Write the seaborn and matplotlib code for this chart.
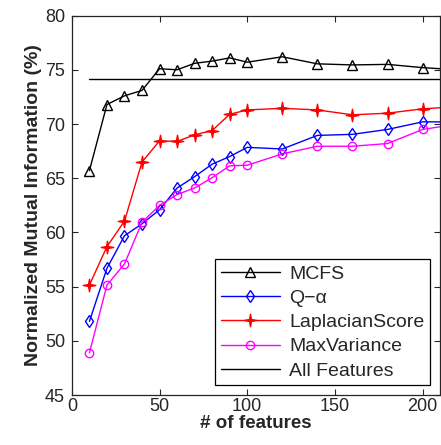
import numpy as np
import pandas as pd
import matplotlib
matplotlib.use("Agg")
import matplotlib.pyplot as plt
from matplotlib.path import Path
import seaborn as sns

# number of selected features (last point lies past the visible x range)
n_features = [10, 20, 30, 40, 50, 60, 70, 80, 90, 100, 120, 140, 160, 180, 200, 220]

mcfs = [65.7, 71.8, 72.6, 73.1, 75.1, 75.0, 75.6, 75.8, 76.1, 75.7, 76.2, 75.55, 75.45, 75.5, 75.2, 75.0]
q_alpha = [51.8, 56.7, 59.7, 60.8, 62.1, 64.1, 65.15, 66.3, 67.0, 67.85, 67.7, 68.95, 69.05, 69.5, 70.2, 70.2]
laplacian = [55.15, 58.7, 61.05, 66.5, 68.45, 68.4, 69.0, 69.4, 70.9, 71.3, 71.45, 71.3, 70.85, 71.0, 71.4, 71.6]
max_variance = [48.9, 55.15, 57.1, 60.95, 62.5, 63.5, 64.1, 65.05, 66.15, 66.2, 67.25, 67.95, 67.95, 68.2, 69.5, 70.0]
all_features = 74.13

# thin four-point star (looks like the matlab asterisk at this size)
ang = np.deg2rad(np.arange(0, 360, 45) + 90)
rad = np.array([1.0, 0.22] * 4)
star_verts = np.column_stack([rad * np.cos(ang), rad * np.sin(ang)])
star_verts = np.vstack([star_verts, star_verts[:1]])
star = Path(star_verts, closed=True)

sns.set_style("ticks")
plt.rcParams['font.family'] = ['Liberation Sans', 'DejaVu Sans']
plt.rcParams['xtick.direction'] = 'in'
plt.rcParams['ytick.direction'] = 'in'

fig = plt.figure(figsize=(4.41, 4.45), dpi=100)
ax = fig.add_axes([0.163, 0.112, 0.835, 0.853])

series = [
    ("MCFS", mcfs, "black", "^", "none", 7),
    ("Q\u2212\u03b1", q_alpha, "blue", "d", "none", 6),
    ("LaplacianScore", laplacian, "red", star, "red", 9),
    ("MaxVariance", max_variance, "magenta", "o", "none", 6),
]

for name, vals, col, mk, fc, ms in series:
    df = pd.DataFrame({"k": n_features, "nmi": vals})
    sns.lineplot(data=df, x="k", y="nmi", ax=ax, color=col, marker=mk,
                 markerfacecolor=fc, markeredgecolor=col, markersize=ms,
                 markeredgewidth=1.0, linewidth=1.0, label=name)

ax.axhline(all_features, xmin=10 / 210, xmax=1, color="black", linewidth=1.0,
           label="All Features")

ax.set_xlim(0, 210)
ax.set_ylim(45, 80)
ax.set_xticks([0, 50, 100, 150, 200])
ax.set_yticks([45, 50, 55, 60, 65, 70, 75, 80])
ax.tick_params(top=True, right=True, labelsize=13, length=4, width=0.8)
ax.tick_params(axis="x", pad=2)
ax.tick_params(axis="y", pad=5)
for s in ax.spines.values():
    s.set_linewidth(0.9)

ax.set_xlabel("# of features", fontsize=13.5, fontweight="bold", labelpad=0)
ax.set_ylabel("Normalized Mutual Information (%)", fontsize=14, fontweight="bold", labelpad=2)

leg = ax.legend(loc="lower right", fontsize=14, handlelength=3.0, handletextpad=0.5,
                labelspacing=0.34, frameon=True, fancybox=False, edgecolor="black",
                borderaxespad=0.5, borderpad=0.3)
leg.get_frame().set_linewidth(0.9)
leg.get_frame().set_alpha(1)

fig.savefig("out.png", dpi=100)
